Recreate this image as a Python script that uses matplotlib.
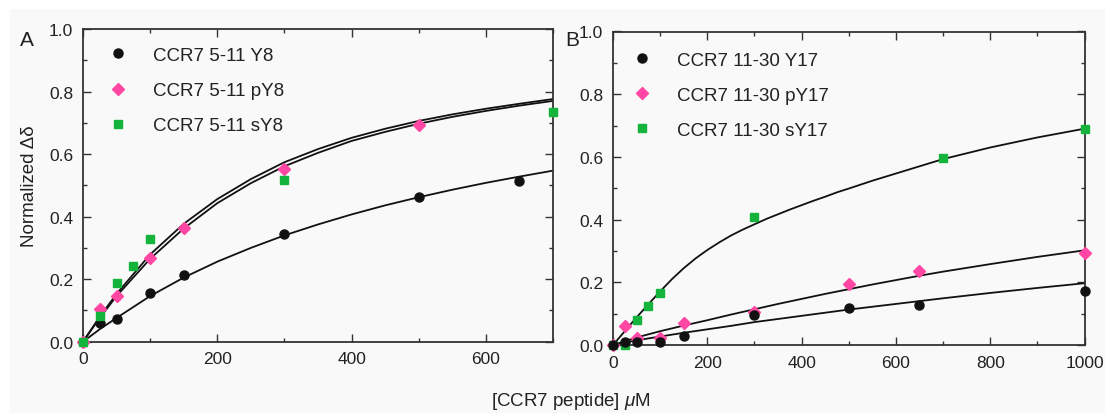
import matplotlib
matplotlib.use("Agg")
import matplotlib.pyplot as plt
from matplotlib.patches import Rectangle
from matplotlib.ticker import MultipleLocator

plt.rcParams["font.family"] = ["Liberation Sans", "DejaVu Sans"]
plt.rcParams["mathtext.fontset"] = "custom"
plt.rcParams["mathtext.it"] = "Liberation Sans:italic"

BG = "#f9f9f9"
INK = "#222222"
BLACK = "#111111"
PINK = "#ff47a3"
GREEN = "#14b43c"

# Panel A: CCR7 5-11 peptides
a_labels = ["CCR7 5-11 Y8", "CCR7 5-11 pY8", "CCR7 5-11 sY8"]
a_y8_x = [0, 25, 50, 100, 150, 300, 500, 650]
a_y8_y = [0.0, 0.060, 0.072, 0.156, 0.212, 0.346, 0.462, 0.515]
a_py8_x = [0, 25, 50, 100, 150, 300, 500]
a_py8_y = [0.0, 0.104, 0.146, 0.267, 0.365, 0.552, 0.693]
a_sy8_x = [0, 25, 50, 75, 100, 300, 700]
a_sy8_y = [0.0, 0.081, 0.188, 0.243, 0.328, 0.518, 0.734]

# fitted curves
a_fit_x = [0, 25, 50, 100, 150, 200, 250, 300, 350, 400, 450, 500, 550, 600, 650, 700]
a_fit_y8 = [0.0, 0.040, 0.076, 0.146, 0.205, 0.256, 0.300, 0.340, 0.375, 0.407,
            0.436, 0.462, 0.486, 0.508, 0.528, 0.547]
a_fit_upper = [0.0, 0.080, 0.153, 0.279, 0.377, 0.456, 0.520, 0.574, 0.616, 0.652,
               0.681, 0.706, 0.727, 0.745, 0.761, 0.776]
a_fit_lower = [0.0, 0.076, 0.146, 0.265, 0.362, 0.443, 0.507, 0.561, 0.604, 0.642,
               0.671, 0.697, 0.719, 0.738, 0.755, 0.770]

# Panel B: CCR7 11-30 peptides
b_labels = ["CCR7 11-30 Y17", "CCR7 11-30 pY17", "CCR7 11-30 sY17"]
b_y17_x = [0, 25, 50, 100, 150, 300, 500, 650, 1000]
b_y17_y = [0.0, 0.011, 0.009, 0.011, 0.029, 0.096, 0.118, 0.128, 0.173]
b_py17_x = [0, 25, 50, 100, 150, 300, 500, 650, 1000]
b_py17_y = [0.0, 0.060, 0.023, 0.021, 0.071, 0.106, 0.194, 0.236, 0.294]
b_sy17_x = [0, 25, 50, 75, 100, 300, 700, 1000]
b_sy17_y = [0.0, 0.0, 0.081, 0.125, 0.165, 0.409, 0.598, 0.688]

b_fit_x = [0, 50, 100, 150, 200, 250, 300, 350, 400, 450, 500, 550, 600, 650, 700,
           800, 900, 1000]
b_fit_y17 = [0.0, 0.015, 0.027, 0.039, 0.050, 0.061, 0.073, 0.083, 0.093, 0.103,
             0.113, 0.122, 0.131, 0.140, 0.149, 0.166, 0.182, 0.197]
b_fit_py17 = [0.0, 0.024, 0.044, 0.062, 0.079, 0.097, 0.114, 0.131, 0.147, 0.163,
              0.178, 0.193, 0.207, 0.221, 0.234, 0.258, 0.281, 0.302]
b_fit_s_x = [0, 25, 50, 75, 100, 125, 150, 175, 200, 225, 250, 275, 300, 325, 350,
             375, 400, 425, 450, 475, 500, 550, 600, 650, 700, 800, 900, 1000]
b_fit_sy17 = [0.0, 0.044, 0.088, 0.130, 0.171, 0.210, 0.245, 0.276, 0.303, 0.327,
              0.349, 0.368, 0.385, 0.402, 0.417, 0.432, 0.446, 0.460, 0.473, 0.487,
              0.499, 0.524, 0.547, 0.570, 0.593, 0.630, 0.662, 0.690]


def style_axes(ax, xmax):
    ax.set_facecolor(BG)
    ax.set_xlim(0, xmax)
    ax.set_ylim(0, 1.0)
    ax.xaxis.set_major_locator(MultipleLocator(200))
    ax.xaxis.set_minor_locator(MultipleLocator(100))
    ax.yaxis.set_major_locator(MultipleLocator(0.2))
    ax.yaxis.set_minor_locator(MultipleLocator(0.1))
    ax.yaxis.set_major_formatter(lambda v, p: f"{v:.1f}")
    ax.tick_params(which="both", direction="in", top=True, right=True,
                   colors="#333333", labelcolor=INK, labelsize=12.5, pad=7, width=1.0)
    ax.tick_params(which="major", length=5.5)
    ax.tick_params(which="minor", length=3)
    for s in ax.spines.values():
        s.set_linewidth(1.3)
        s.set_color("#333333")


def add_legend(ax, x0, y0):
    leg = ax.legend(loc="upper left", bbox_to_anchor=(x0, y0), frameon=False,
                    fontsize=13.5, handlelength=2.0, handletextpad=0.85,
                    labelspacing=0.96, borderpad=0, borderaxespad=0, numpoints=1)
    for t in leg.get_texts():
        t.set_color(INK)


fig = plt.figure(figsize=(11.05, 4.14), dpi=100, facecolor="white")
fig.patches.append(Rectangle((10 / 1105, 0), 1, 1 - 10 / 414, transform=fig.transFigure,
                             facecolor=BG, edgecolor="none", zorder=-10))

axA = fig.add_axes([83 / 1105, 71.3 / 414, 470 / 1105, 312.7 / 414])
axB = fig.add_axes([613 / 1105, 68 / 414, 471.5 / 1105, 313.5 / 414])

# Panel A
for fy in (a_fit_upper, a_fit_lower, a_fit_y8):
    axA.plot(a_fit_x, fy, color=BLACK, lw=1.3, zorder=2)
axA.plot(a_y8_x, a_y8_y, "o", color=BLACK, ms=6.5, label=a_labels[0], clip_on=False, zorder=3)
axA.plot(a_py8_x, a_py8_y, "D", color=PINK, ms=6, label=a_labels[1], clip_on=False, zorder=4)
axA.plot(a_sy8_x, a_sy8_y, "s", color=GREEN, ms=5.5, label=a_labels[2], clip_on=False, zorder=5)
style_axes(axA, 700)
axA.set_ylabel("Normalized Δδ", fontsize=13.5, color=INK, labelpad=8)
add_legend(axA, 0.035, 0.943)
fig.text(27 / 1105, 1 - 40 / 414, "A", fontsize=15, color=INK, ha="center", va="center")

# Panel B
axB.plot(b_fit_s_x, b_fit_sy17, color=BLACK, lw=1.3, zorder=2)
for fy in (b_fit_py17, b_fit_y17):
    axB.plot(b_fit_x, fy, color=BLACK, lw=1.3, zorder=2)
axB.plot(b_y17_x, b_y17_y, "o", color=BLACK, ms=6.5, label=b_labels[0], clip_on=False, zorder=5)
axB.plot(b_py17_x, b_py17_y, "D", color=PINK, ms=6, label=b_labels[1], clip_on=False, zorder=4)
axB.plot(b_sy17_x, b_sy17_y, "s", color=GREEN, ms=5.5, label=b_labels[2], clip_on=False, zorder=3)
style_axes(axB, 1000)
add_legend(axB, 0.022, 0.936)
fig.text(572 / 1105, 1 - 41 / 414, "B", fontsize=15, color=INK, ha="center", va="center")

fig.text(571 / 1105, 12.3 / 414, r"[CCR7 peptide] $\mu$M", fontsize=13.5, color=INK,
         ha="center", va="center")

fig.savefig("out.png", dpi=100, facecolor=fig.get_facecolor())
